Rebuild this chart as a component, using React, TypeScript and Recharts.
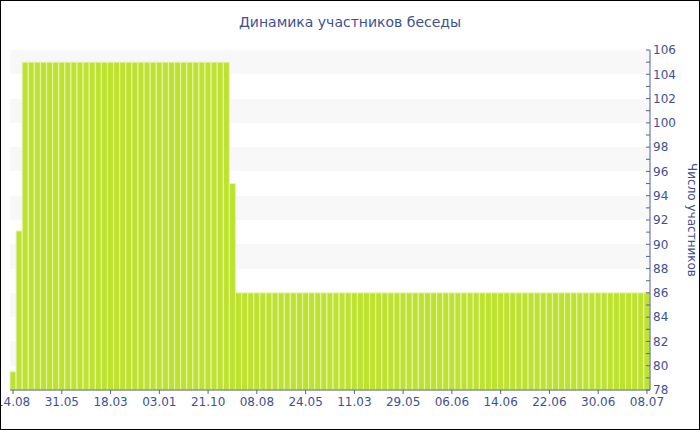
import React from 'react';
import { BarChart, Bar, XAxis, YAxis, CartesianGrid } from 'recharts';

const tickLabels = ['14.08', '31.05', '18.03', '03.01', '21.10', '08.08', '24.05', '11.03', '29.05', '06.06', '14.06', '22.06', '30.06', '08.07'];

const memberCounts = [
  79.5, 91.1,
  105, 105, 105, 105, 105, 105, 105, 105, 105, 105,
  105, 105, 105, 105, 105, 105, 105, 105, 105, 105,
  105, 105, 105, 105, 105, 105, 105, 105, 105, 105,
  105, 105, 105, 105,
  95,
  86, 86, 86, 86, 86, 86, 86, 86, 86, 86,
  86, 86, 86, 86, 86, 86, 86, 86, 86, 86,
  86, 86, 86, 86, 86, 86, 86, 86, 86, 86,
  86, 86, 86, 86, 86, 86, 86, 86, 86, 86,
  86, 86, 86, 86, 86, 86, 86, 86, 86, 86,
  86, 86, 86, 86, 86, 86, 86, 86, 86, 86,
  86, 86, 86, 86, 86, 86, 86, 86,
];

const yTicks = [78, 79, 80, 81, 82, 83, 84, 85, 86, 87, 88, 89, 90, 91, 92, 93, 94, 95, 96, 97, 98, 99, 100, 101, 102, 103, 104, 105, 106];

const LABEL_EVERY = 8;

const data = memberCounts.map((v, i) => ({
  day: i % LABEL_EVERY === 0 ? tickLabels[i / LABEL_EVERY] : `d${i}`,
  count: v,
}));

const BLUE = '#3e5193';
const AXIS = '#5262a0';
const FONT = '"DejaVu Sans", Verdana, sans-serif';
const TICK_MARGIN = 3;

const YTick = (props: any) => {
  const { x, y, payload } = props;
  const axisX = x - TICK_MARGIN;
  const major = payload.value % 2 === 0;
  return (
    <g>
      <line x1={axisX - 4} x2={axisX} y1={y} y2={y} stroke={AXIS} strokeWidth={1} />
      {major && (
        <text x={x} y={y} dy="0.36em" textAnchor="start" fill={BLUE} fontSize={12} fontFamily={FONT}>
          {payload.value}
        </text>
      )}
    </g>
  );
};

const YLabel = (props: any) => {
  const vb = props.viewBox || { x: 650, y: 50, width: 50, height: 340 };
  const cx = vb.x + vb.width - 8;
  const cy = vb.y + vb.height / 2;
  return (
    <text
      x={cx}
      y={cy}
      transform={`rotate(90 ${cx} ${cy})`}
      textAnchor="middle"
      dominantBaseline="central"
      fill={BLUE}
      fontSize={12}
      fontFamily={FONT}
    >
      Число участников
    </text>
  );
};

export default function App() {
  return (
    <div style={{ position: 'absolute', top: 0, left: 0, width: 700, height: 430, background: '#fff', fontFamily: FONT }}>
      <div
        style={{
          position: 'absolute',
          top: 12,
          left: 0,
          width: 700,
          textAlign: 'center',
          fontSize: 14,
          lineHeight: '20px',
          color: BLUE,
          fontFamily: FONT,
        }}
      >
        Динамика участников беседы
      </div>
      <BarChart
        width={700}
        height={430}
        data={data}
        margin={{ top: 50, right: 0, bottom: 0, left: 10 }}
        barCategoryGap={0}
        style={{ position: 'absolute', top: 0, left: 0 }}
      >
        <CartesianGrid
          vertical={false}
          stroke="none"
          horizontalFill={['#f8f8f8', '#f8f8f8', '#ffffff', '#ffffff']}
        />
        <XAxis
          dataKey="day"
          interval={LABEL_EVERY - 1}
          height={40}
          tickSize={4}
          tickMargin={3}
          axisLine={{ stroke: AXIS }}
          tickLine={{ stroke: AXIS }}
          tick={{ fill: BLUE, fontSize: 12, fontFamily: FONT }}
        />
        <YAxis
          orientation="right"
          width={50}
          domain={[78, 106]}
          ticks={yTicks}
          interval={0}
          tickSize={0}
          tickMargin={TICK_MARGIN}
          tickLine={false}
          axisLine={{ stroke: AXIS }}
          tick={<YTick />}
          label={{ content: (p: any) => <YLabel {...p} /> }}
        />
        <Bar dataKey="count" fill="#bde22f" stroke="#e6f4b0" strokeWidth={1} isAnimationActive={false} />
      </BarChart>
      <div
        style={{
          position: 'absolute',
          top: 0,
          left: 0,
          width: 700,
          height: 430,
          boxSizing: 'border-box',
          border: '1px solid #000',
          pointerEvents: 'none',
        }}
      />
    </div>
  );
}
